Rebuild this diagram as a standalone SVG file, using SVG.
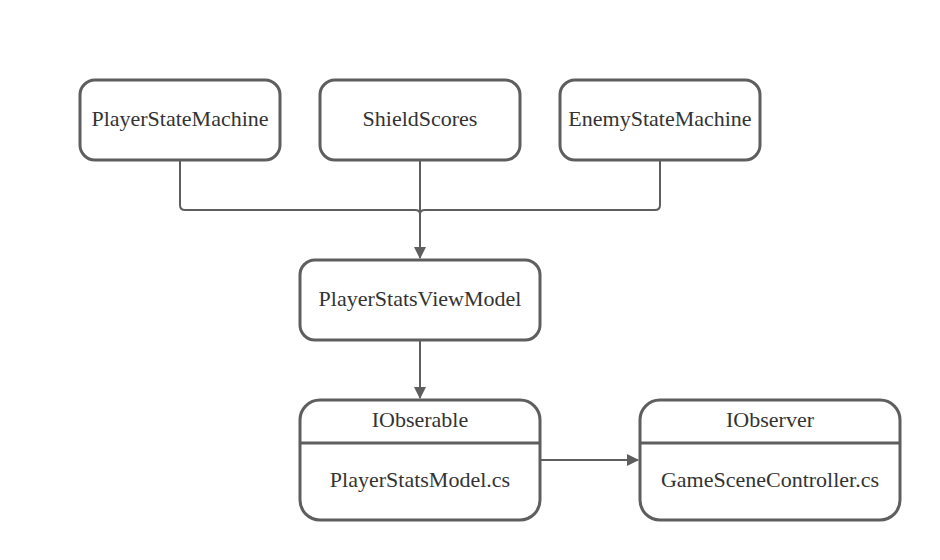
<svg xmlns="http://www.w3.org/2000/svg" width="940" height="560" viewBox="0 0 940 560">
<defs>
<style>
.box{fill:#fff;stroke:#5e5e5e;stroke-width:3}
.ln{fill:none;stroke:#5e5e5e;stroke-width:2}
.t{font-family:"Liberation Serif",serif;font-size:22px;fill:#333;text-anchor:middle}
</style>
<marker id="ah" viewBox="0 0 12 12" refX="11" refY="6" markerWidth="12" markerHeight="12" markerUnits="userSpaceOnUse" orient="auto">
<path d="M0,0 L12,6 L0,12 Z" fill="#5e5e5e"/>
</marker>
</defs>
<rect width="940" height="560" fill="#fff"/>
<g id="connectors">
<path class="ln" d="M180,160 V205 Q180,210 185,210 H415 Q420,210 420,214"/>
<path class="ln" d="M660,160 V205 Q660,210 655,210 H425 Q420,210 420,214"/>
<path class="ln" d="M420,160 V258" marker-end="url(#ah)"/>
<path class="ln" d="M420,340 V398" marker-end="url(#ah)"/>
<path class="ln" d="M540,460 H638" marker-end="url(#ah)"/>
</g>
<g id="n1"><rect class="box" x="80" y="80" width="200" height="80" rx="15"/><text class="t" x="180" y="126">PlayerStateMachine</text></g>
<g id="n2"><rect class="box" x="320" y="80" width="200" height="80" rx="15"/><text class="t" x="420" y="126">ShieldScores</text></g>
<g id="n3"><rect class="box" x="560" y="80" width="200" height="80" rx="15"/><text class="t" x="660" y="126">EnemyStateMachine</text></g>
<g id="n4"><rect class="box" x="300" y="260" width="240" height="80" rx="15"/><text class="t" x="420" y="306">PlayerStatsViewModel</text></g>
<g id="n5"><rect class="box" x="300" y="400" width="240" height="120" rx="20"/><line class="box" x1="300" y1="443" x2="540" y2="443"/><text class="t" x="420" y="427">IObserable</text><text class="t" x="420" y="487">PlayerStatsModel.cs</text></g>
<g id="n6"><rect class="box" x="640" y="400" width="260" height="120" rx="20"/><line class="box" x1="640" y1="443" x2="900" y2="443"/><text class="t" x="770" y="427">IObserver</text><text class="t" x="770" y="487">GameSceneController.cs</text></g>
</svg>
